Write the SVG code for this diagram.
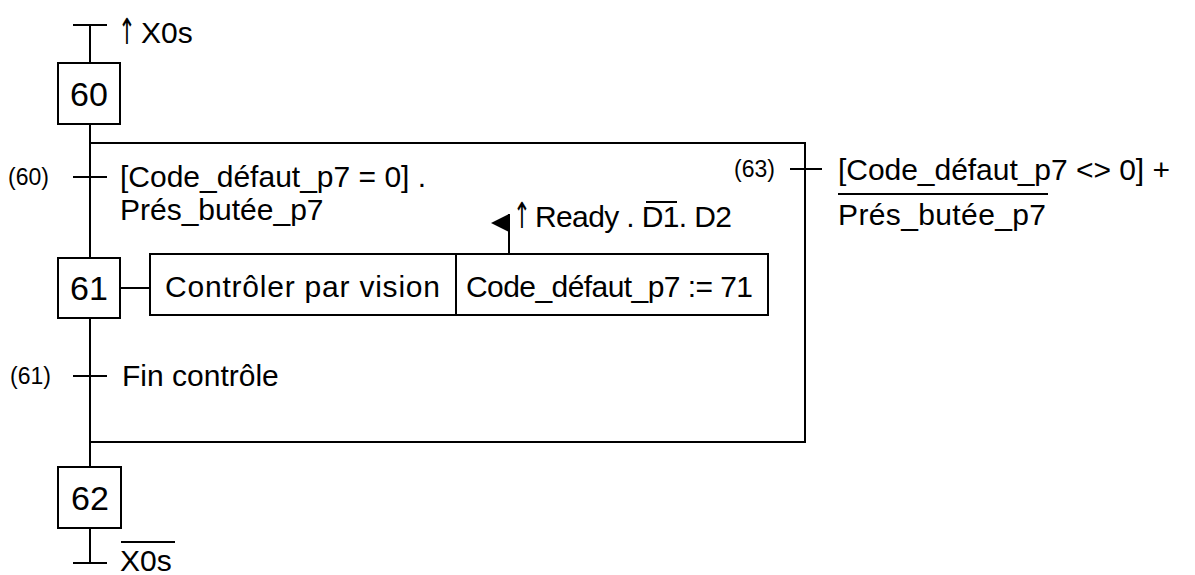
<svg xmlns="http://www.w3.org/2000/svg" width="1195" height="575" viewBox="0 0 1195 575">
<style>
.ln{stroke:#000;stroke-width:2;fill:none}
.bx{stroke:#000;stroke-width:2;fill:#fff}
.t{font-family:"Liberation Sans",Arial,sans-serif;font-size:30px;fill:#000}
.ar{font-family:"DejaVu Sans",sans-serif;font-size:30px;fill:#000}
.s{font-family:"Liberation Sans",Arial,sans-serif;font-size:23px;fill:#000}
.n{font-family:"Liberation Sans",Arial,sans-serif;font-size:34px;fill:#000;text-anchor:middle}
</style>
<rect width="1195" height="575" fill="#fff"/>
<g id="connectors">
<path class="ln" d="M90,25V63M90,124V258M90,318V467M90,528V563"/>
<path class="ln" d="M73,25H107M73,177H107M73,376H107M73,563H107"/>
<path class="ln" d="M90,143H805V442H90"/>
<path class="ln" d="M790,169H822"/>
<path class="ln" d="M120,288H150"/>
<path class="ln" d="M509,254V214"/>
<polygon points="509,214 509,232 491,223" fill="#000"/>
</g>
<g id="t_top">
<text class="ar" x="118" y="44" transform="translate(118 44) scale(0.7 1.2) translate(-118 -44)">↑</text>
<text class="t" x="141" y="43">X0s</text>
</g>
<g id="step60">
<rect class="bx" x="58" y="63" width="62" height="61"/>
<text class="n" x="89" y="106">60</text>
</g>
<g id="t60">
<text class="s" x="8" y="185">(60)</text>
<text class="t" x="120" y="187">[Code_défaut_p7 = 0] .</text>
<text class="t" x="120" y="220">Prés_butée_p7</text>
</g>
<g id="t63">
<text class="s" x="734" y="177">(63)</text>
<text class="t" x="838" y="180" textLength="332" lengthAdjust="spacing">[Code_défaut_p7 &lt;&gt; 0] +</text>
<line class="ln" x1="838" y1="194" x2="1048" y2="194"/>
<text class="t" x="838" y="225" textLength="208" lengthAdjust="spacing">Prés_butée_p7</text>
</g>
<g id="step61">
<rect class="bx" x="58" y="258" width="62" height="60"/>
<text class="n" x="89" y="300">61</text>
</g>
<g id="action61">
<rect class="bx" x="150" y="254" width="306" height="61"/>
<rect class="bx" x="456" y="254" width="312" height="61"/>
<text class="t" x="165" y="297" textLength="275" lengthAdjust="spacing">Contrôler par vision</text>
<text class="t" x="466" y="297" textLength="287" lengthAdjust="spacing">Code_défaut_p7 := 71</text>
</g>
<g id="cond">
<text class="ar" x="513" y="228" transform="translate(513 228) scale(0.7 1.2) translate(-513 -228)">↑</text>
<text class="t" x="535" y="227" textLength="197" lengthAdjust="spacing">Ready . D1. D2</text>
<line class="ln" x1="646" y1="202" x2="677" y2="202"/>
</g>
<g id="t61">
<text class="s" x="10" y="384">(61)</text>
<text class="t" x="122" y="386">Fin contrôle</text>
</g>
<g id="step62">
<rect class="bx" x="58" y="467" width="63" height="61"/>
<text class="n" x="90" y="510">62</text>
</g>
<g id="t62">
<text class="t" x="120" y="571">X0s</text>
<line class="ln" x1="121" y1="542" x2="175" y2="542"/>
</g>
</svg>
